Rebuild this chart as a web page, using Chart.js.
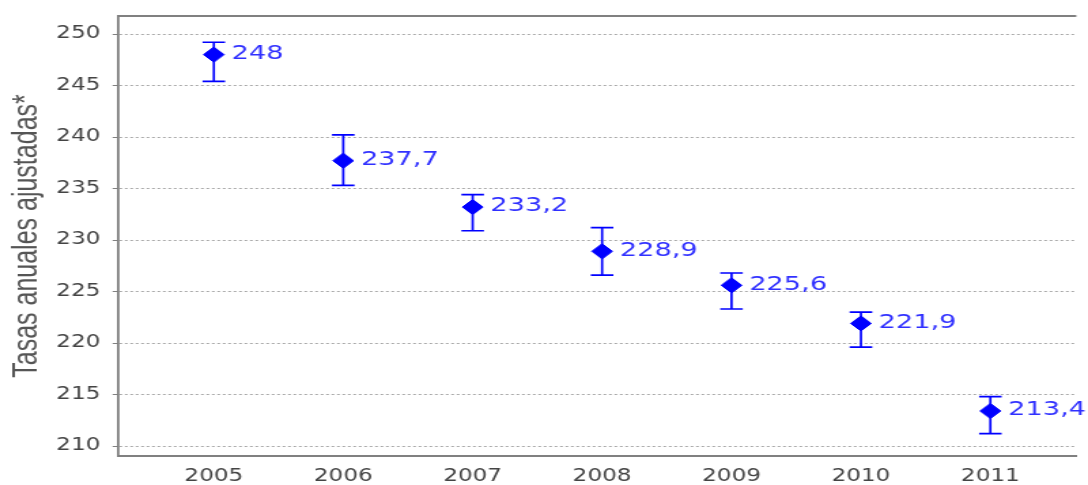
<!DOCTYPE html>
<html>
<head>
<meta charset="utf-8">
<script src="https://cdn.jsdelivr.net/npm/chart.js@4/dist/chart.umd.min.js"></script>
<style>
    html, body { margin: 0; padding: 0; background: #fff; overflow: hidden; }
</style>
</head>
<body>
<!-- canvas is drawn 800 wide and stretched to 1088, the source picture is stretched the same way -->
<canvas id="rateChart" width="800" height="485" style="display:block;width:1088px;height:485px"></canvas>
<script>
var years = [2005, 2006, 2007, 2008, 2009, 2010, 2011];
var adjustedRates = [248, 237.7, 233.2, 228.9, 225.6, 221.9, 213.4];
var lowerLimits = [245.4, 235.3, 230.9, 226.6, 223.3, 219.6, 211.2];
var upperLimits = [249.2, 240.2, 234.4, 231.2, 226.8, 223.0, 214.8];
var yAxisTitle = "Tasas anuales ajustadas*";

var blue = "#0000ff";
var axisGray = "#808080";
var textGray = "#444444";

function formatRate(value) {
    return String(value).replace('.', ',');
}

// error bars, drawn under the diamonds
var errorBarPlugin = {
    id: 'errorBars',
    beforeDatasetsDraw: function (chart) {
        var ctx = chart.ctx;
        var xScale = chart.scales.x;
        var yScale = chart.scales.y;
        var capHalf = 8.3;
        ctx.save();
        ctx.strokeStyle = blue;
        ctx.lineWidth = 1.7;
        for (var i = 0; i < years.length; i++) {
            var x = xScale.getPixelForValue(years[i]);
            var yLow = yScale.getPixelForValue(lowerLimits[i]);
            var yHigh = yScale.getPixelForValue(upperLimits[i]);
            ctx.beginPath();
            ctx.moveTo(x, yLow);
            ctx.lineTo(x, yHigh);
            ctx.moveTo(x - capHalf, yLow);
            ctx.lineTo(x + capHalf, yLow);
            ctx.moveTo(x - capHalf, yHigh);
            ctx.lineTo(x + capHalf, yHigh);
            ctx.stroke();
        }
        // top edge of the plot frame
        var area = chart.chartArea;
        ctx.strokeStyle = axisGray;
        ctx.lineWidth = 2;
        ctx.beginPath();
        ctx.moveTo(area.left, area.top);
        ctx.lineTo(area.right, area.top);
        ctx.stroke();
        ctx.restore();
    }
};

// value labels right of each point
var valueLabelPlugin = {
    id: 'valueLabels',
    afterDatasetsDraw: function (chart) {
        var ctx = chart.ctx;
        var meta = chart.getDatasetMeta(0);
        ctx.save();
        ctx.fillStyle = "#3030ff";
        ctx.font = "20px 'DejaVu Sans'";
        ctx.textAlign = 'left';
        ctx.textBaseline = 'middle';
        for (var i = 0; i < meta.data.length; i++) {
            var pt = meta.data[i];
            ctx.fillText(formatRate(adjustedRates[i]), pt.x + 13, pt.y - 1);
        }
        ctx.restore();
    }
};

function initRateChart() {
    var points = [];
    for (var i = 0; i < years.length; i++) {
        points.push({ x: years[i], y: adjustedRates[i] });
    }

    var chartData = {
        datasets: [
            {
                label: yAxisTitle,
                data: points,
                showLine: false,
                pointStyle: 'rectRot',
                pointRadius: 7.6,
                pointHoverRadius: 7.6,
                backgroundColor: blue,
                borderColor: blue,
                borderWidth: 1
            }
        ]
    };

    var chartOptions = {
        responsive: false,
        animation: false,
        devicePixelRatio: 1,
        layout: { padding: { top: 16, right: 0, bottom: 0, left: 0 } },
        plugins: {
            legend: { display: false },
            tooltip: { enabled: false }
        },
        scales: {
            x: {
                type: 'linear',
                min: 2004.26,
                max: 2011.664,
                afterFit: function (scale) {
                    scale.height = 29;
                    scale.paddingLeft = 0;
                    scale.paddingRight = 0;
                },
                grid: { display: false, drawTicks: false },
                border: { display: true, color: axisGray, width: 2 },
                ticks: {
                    stepSize: 1,
                    includeBounds: false,
                    padding: 10,
                    color: textGray,
                    font: { family: "'DejaVu Sans'", size: 17 },
                    callback: function (value) { return String(value); }
                }
            },
            y: {
                min: 209.03,
                max: 251.75,
                afterFit: function (scale) {
                    scale.width = 86.8;
                    scale.paddingTop = 0;
                    scale.paddingBottom = 0;
                },
                grid: {
                    color: "#a8a8a8",
                    lineWidth: 1,
                    drawTicks: true,
                    tickLength: 4,
                    tickColor: axisGray
                },
                border: { display: true, color: axisGray, width: 1.8, dash: [2, 2] },
                ticks: {
                    stepSize: 5,
                    includeBounds: false,
                    padding: 9,
                    color: textGray,
                    font: { family: "'DejaVu Sans'", size: 17 },
                    callback: function (value) { return String(value); }
                },
                title: {
                    display: true,
                    text: yAxisTitle,
                    color: "#555555",
                    padding: { top: 5, bottom: 0 },
                    font: { family: "'Liberation Sans'", size: 25 }
                }
            }
        }
    };

    var rateCanvas = document.getElementById("rateChart").getContext("2d");
    new Chart(rateCanvas, {
        type: 'scatter',
        data: chartData,
        options: chartOptions,
        plugins: [errorBarPlugin, valueLabelPlugin]
    });
}

initRateChart();
</script>
</body>
</html>
